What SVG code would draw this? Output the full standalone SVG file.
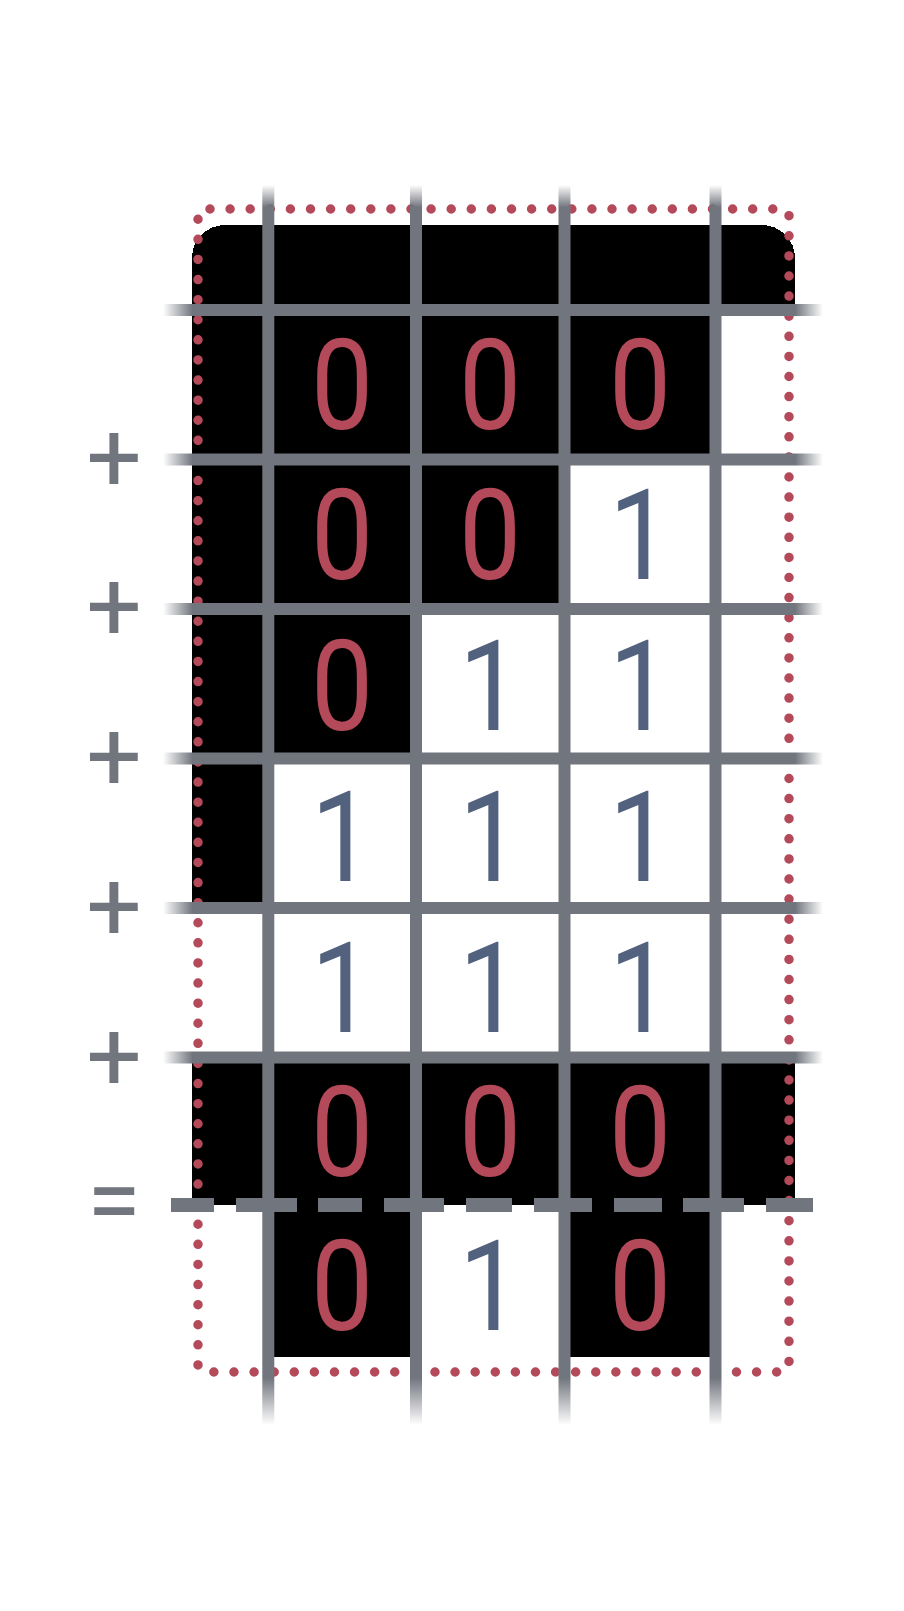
<svg xmlns="http://www.w3.org/2000/svg" width="904" height="1611" viewBox="0 0 904 1611">
  <style>
    .grid { stroke: url(#vfade); stroke-width: 12; fill: none; }
    .hgrid { stroke: url(#hfade); stroke-width: 12; fill: none; }
    .dash { stroke: #71757d; stroke-width: 14; fill: none; }
    .dots { fill: none; stroke: #b4495a; stroke-width: 9.5; stroke-linecap: round; stroke-dasharray: 0 20.1; stroke-dashoffset: -6; }
    .d { font-family: Roboto, "Noto Sans", sans-serif; font-size: 127px; text-anchor: middle; }
    .zero { fill: #b4495a; }
    .one { fill: #52617e; }
    .op { font-family: Roboto, "Noto Sans", sans-serif; font-size: 98px; text-anchor: middle; fill: #71757d; }
  </style>
  <defs>
    <linearGradient id="vfade" gradientUnits="userSpaceOnUse" x1="0" y1="185" x2="0" y2="1425">
      <stop offset="0" stop-color="#71757d" stop-opacity="0"/>
      <stop offset="0.018" stop-color="#71757d" stop-opacity="1"/>
      <stop offset="0.962" stop-color="#71757d" stop-opacity="1"/>
      <stop offset="1" stop-color="#71757d" stop-opacity="0"/>
    </linearGradient>
    <linearGradient id="hfade" gradientUnits="userSpaceOnUse" x1="163" y1="0" x2="823" y2="0">
      <stop offset="0" stop-color="#71757d" stop-opacity="0"/>
      <stop offset="0.045" stop-color="#71757d" stop-opacity="1"/>
      <stop offset="0.958" stop-color="#71757d" stop-opacity="1"/>
      <stop offset="1" stop-color="#71757d" stop-opacity="0"/>
    </linearGradient>
  </defs>
  <rect width="904" height="1611" fill="#ffffff"/>

  <g id="black-cells" fill="#000000" shape-rendering="crispEdges">
    <path d="M192,258 A33,33 0 0 1 225,225 L762,225 A33,33 0 0 1 795,258 L795,310 L715.5,310 L715.5,459.5 L564.5,459.5 L564.5,609 L416,609 L416,758.5 L268,758.5 L268,908 L192,908 Z"/>
    <rect x="192" y="1057.5" width="603" height="147.5"/>
    <rect x="268" y="1205" width="148" height="152"/>
    <rect x="564.5" y="1205" width="151" height="152"/>
  </g>

  <g id="border">
    <rect class="dots" x="198" y="209" width="591" height="1163" rx="6"/>
  </g>

  <g id="connectors">
    <path class="grid" d="M268.3,185V1425 M416,185V1425 M564.5,185V1425 M715.5,185V1425"/>
    <path class="hgrid" d="M163,310H823 M163,459.5H823 M163,609H823 M163,758.5H823 M163,908H823 M163,1057.5H823"/>
    <path class="dash" d="M171,1205H214 M236,1205H297 M318,1205H362 M384,1205H444 M466,1205H512 M534,1205H592 M614,1205H662 M683,1205H744 M766,1205H813"/>
  </g>

  <g id="row1" class="d">
    <text class="zero" transform="matrix(0.87 0 0 1 342 428.5)">0</text>
    <text class="zero" transform="matrix(0.87 0 0 1 490 428.5)">0</text>
    <text class="zero" transform="matrix(0.87 0 0 1 640 428.5)">0</text>
  </g>
  <g id="row2" class="d">
    <text class="zero" transform="matrix(0.87 0 0 1 342 579.3)">0</text>
    <text class="zero" transform="matrix(0.87 0 0 1 490 579.3)">0</text>
    <text class="one" transform="matrix(0.87 0 0 1 640 579.3)">1</text>
  </g>
  <g id="row3" class="d">
    <text class="zero" transform="matrix(0.87 0 0 1 342 730)">0</text>
    <text class="one" transform="matrix(0.87 0 0 1 490 730)">1</text>
    <text class="one" transform="matrix(0.87 0 0 1 640 730)">1</text>
  </g>
  <g id="row4" class="d">
    <text class="one" transform="matrix(0.87 0 0 1 342 881)">1</text>
    <text class="one" transform="matrix(0.87 0 0 1 490 881)">1</text>
    <text class="one" transform="matrix(0.87 0 0 1 640 881)">1</text>
  </g>
  <g id="row5" class="d">
    <text class="one" transform="matrix(0.87 0 0 1 342 1031.7)">1</text>
    <text class="one" transform="matrix(0.87 0 0 1 490 1031.7)">1</text>
    <text class="one" transform="matrix(0.87 0 0 1 640 1031.7)">1</text>
  </g>
  <g id="row6" class="d">
    <text class="zero" transform="matrix(0.87 0 0 1 342 1176)">0</text>
    <text class="zero" transform="matrix(0.87 0 0 1 490 1176)">0</text>
    <text class="zero" transform="matrix(0.87 0 0 1 640 1176)">0</text>
  </g>
  <g id="result" class="d">
    <text class="zero" transform="matrix(0.87 0 0 1 342 1330)">0</text>
    <text class="one" transform="matrix(0.87 0 0 1 490 1330)">1</text>
    <text class="zero" transform="matrix(0.87 0 0 1 640 1330)">0</text>
  </g>

  <g id="operators" class="op">
    <text x="114" y="491">+</text>
    <text x="114" y="640">+</text>
    <text x="114" y="790">+</text>
    <text x="114" y="940">+</text>
    <text x="114" y="1090">+</text>
    <text x="114" y="1234">=</text>
  </g>
</svg>
